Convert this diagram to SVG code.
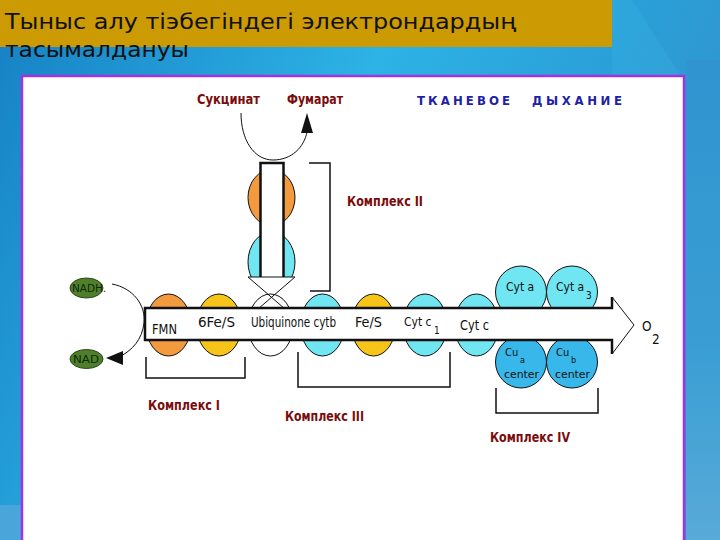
<svg xmlns="http://www.w3.org/2000/svg" width="720" height="540" viewBox="0 0 720 540">
<defs>
<linearGradient id="bg" x1="0" y1="0" x2="1" y2="0.35">
<stop offset="0" stop-color="#1680c4"/>
<stop offset="0.5" stop-color="#2db3e5"/>
<stop offset="0.8" stop-color="#2a9fd8"/>
<stop offset="1" stop-color="#3394cc"/>
</linearGradient>
<linearGradient id="rs" x1="0" y1="0" x2="0" y2="1">
<stop offset="0" stop-color="#2f94cf"/>
<stop offset="0.6" stop-color="#3a9ed4"/>
<stop offset="1" stop-color="#58aad8"/>
</linearGradient>
<clipPath id="stemclip"><rect x="240" y="150" width="70" height="127"/></clipPath>
<style>
.ttl{font-family:"DejaVu Sans","Noto Sans",sans-serif;font-size:21px;fill:#111}
.ru{font-family:"DejaVu Sans Condensed","Liberation Sans Narrow","Liberation Sans",sans-serif;font-weight:bold;font-size:14px;fill:#7a0c0c}
.bl{font-family:"DejaVu Sans Condensed","Liberation Sans",sans-serif;font-weight:bold;font-size:13px;fill:#1e22a6}
.lb{font-family:"DejaVu Sans Condensed","Liberation Sans Narrow","Liberation Sans",sans-serif;font-size:13.5px;fill:#111}
.cc{font-family:"DejaVu Sans Condensed","Liberation Sans Narrow","Liberation Sans",sans-serif;font-size:12px;fill:#111}
.cu2{font-family:"DejaVu Sans Condensed","Liberation Sans Narrow","Liberation Sans",sans-serif;font-size:11px;fill:#111}
.sb{font-family:"DejaVu Sans Condensed","Liberation Sans",sans-serif;font-size:10px;fill:#111}
.ss{font-family:"DejaVu Sans Condensed","Liberation Sans",sans-serif;font-size:9px;fill:#111}
.nd{font-family:"DejaVu Sans Condensed","Liberation Sans",sans-serif;font-size:10px;fill:#10280a}
.c{stroke:#111;stroke-width:1}
.or{fill:#f49a3e}
.ye{fill:#f7c51a}
.cy{fill:#6fe6f2}
.cu{fill:#38b8ea}
.wh{fill:#fff}
.gr{fill:#4f7f2a;stroke:#2a4a15;stroke-width:1}
.ln{fill:none;stroke:#111;stroke-width:1.5}
.th{fill:none;stroke:#111;stroke-width:2.5}
.tn{fill:none;stroke:#111;stroke-width:1}
</style>
</defs>

<!-- background -->
<rect x="0" y="0" width="720" height="540" fill="url(#bg)"/>
<rect x="686" y="60" width="34" height="480" fill="url(#rs)"/>
<polygon points="612,0 632,0 680,75 612,75" fill="#3ab8e6" opacity="0.25"/>
<rect x="0" y="505" width="22" height="35" fill="#4aa6da"/>

<!-- title -->
<rect x="0" y="0" width="612" height="47" fill="#cc9a02"/>
<text class="ttl" x="5" y="29" textLength="511" lengthAdjust="spacingAndGlyphs">Тыныс алу тіэбегіндегі электрондардың</text>
<text class="ttl" x="5" y="57" textLength="184" lengthAdjust="spacingAndGlyphs">тасымалдануы</text>

<!-- panel -->
<rect x="22" y="76" width="662" height="470" fill="#fff" stroke="#a232e2" stroke-width="2.5"/>

<!-- headings -->
<g id="heading">
<text class="bl" x="417" y="105" textLength="93" lengthAdjust="spacing">ТКАНЕВОЕ</text>
<text class="bl" x="532" y="105" textLength="90" lengthAdjust="spacing">ДЫХАНИЕ</text>
</g>
<g id="succinate"><text class="ru" x="197" y="104" textLength="63" lengthAdjust="spacingAndGlyphs">Сукцинат</text></g>
<g id="fumarate"><text class="ru" x="287" y="104" textLength="56" lengthAdjust="spacingAndGlyphs">Фумарат</text></g>

<!-- Complex II vertical part -->
<g id="complex2">
<g clip-path="url(#stemclip)">
<ellipse class="or c" cx="271.5" cy="197.5" rx="23.5" ry="28"/>
<ellipse class="cy c" cx="271.5" cy="262" rx="23.5" ry="30"/>
</g>
<rect x="260.5" y="163" width="23" height="114" fill="#fff"/>
<path class="th" d="M260.5,277 V163 H283.5 V277"/>
<text class="ru" x="347" y="206" textLength="76" lengthAdjust="spacingAndGlyphs">Комплекс II</text>
</g>

<!-- chain carriers -->
<g id="fmn"><ellipse class="or c" cx="168.5" cy="325" rx="22.5" ry="31"/></g>
<g id="fes6"><ellipse class="ye c" cx="219" cy="325" rx="22.5" ry="31"/></g>
<g id="ubiquinone"><ellipse class="wh c" cx="270.5" cy="325" rx="22.5" ry="31"/></g>
<g id="cytb"><ellipse class="cy c" cx="322.5" cy="325" rx="22" ry="31"/></g>
<g id="fes"><ellipse class="ye c" cx="373.5" cy="325" rx="22" ry="31"/></g>
<g id="cytc1"><ellipse class="cy c" cx="425" cy="325" rx="22" ry="31"/></g>
<g id="cytc"><ellipse class="cy c" cx="476.5" cy="325" rx="22" ry="31"/></g>
<g id="cyta"><ellipse class="cy c" cx="521" cy="292" rx="25.5" ry="26"/></g>
<g id="cyta3"><ellipse class="cy c" cx="572" cy="292" rx="25.5" ry="26"/></g>
<g id="cua"><ellipse class="cu c" cx="521" cy="362" rx="25.5" ry="26"/></g>
<g id="cub"><ellipse class="cu c" cx="572" cy="362" rx="25.5" ry="26"/></g>

<!-- main arrow band -->
<g id="band">
<polygon points="145,308 612,308 612,297 634,325 612,354 612,340 145,340" fill="#fff"/>
<path class="th" d="M612,297 V308 H145 V340 H612 V354"/>
<path class="tn" d="M612,297 L634,325 L612,354"/>
</g>

<!-- band labels -->
<text class="lb" x="152" y="334" textLength="25" lengthAdjust="spacingAndGlyphs">FMN</text>
<text class="lb" x="198" y="327" textLength="37" lengthAdjust="spacingAndGlyphs">6Fe/S</text>
<text class="lb" x="251" y="327" textLength="85" lengthAdjust="spacingAndGlyphs">Ubiquinone cytb</text>
<text class="lb" x="355" y="327" textLength="27" lengthAdjust="spacingAndGlyphs">Fe/S</text>
<text class="cc" x="404" y="326">Cyt c</text>
<text class="sb" x="434" y="334">1</text>
<text class="lb" x="460" y="330" textLength="29" lengthAdjust="spacingAndGlyphs">Cyt c</text>
<text class="cc" x="506" y="291">Cyt a</text>
<text class="cc" x="556" y="291">Cyt a</text>
<text class="sb" x="586" y="299">3</text>
<text class="cu2" x="505" y="356">Cu</text>
<text class="ss" x="520" y="363">a</text>
<text class="cu2" x="504" y="378" textLength="35" lengthAdjust="spacingAndGlyphs">center</text>
<text class="cu2" x="556" y="356">Cu</text>
<text class="ss" x="571" y="363">b</text>
<text class="cu2" x="555" y="378" textLength="35" lengthAdjust="spacingAndGlyphs">center</text>
<g id="o2">
<text class="lb" x="642" y="331" font-size="14">O</text>
<text class="lb" x="652" y="344" font-size="14">2</text>
</g>

<!-- NADH / NAD -->
<g id="nadh">
<ellipse class="gr" cx="86.5" cy="288" rx="16.5" ry="10"/>
<text class="nd" x="72" y="292" textLength="34" lengthAdjust="spacingAndGlyphs">NADH.</text>
</g>
<g id="nad">
<ellipse class="gr" cx="86.5" cy="359" rx="16.5" ry="9.5"/>
<text class="nd" x="73" y="363" textLength="26" lengthAdjust="spacingAndGlyphs">NAD</text>
</g>

<!-- connectors -->
<g id="connectors">
<path class="tn" d="M241,113 C241,140 254,160 273,160 C292,160 304,147 307,132"/>
<polygon points="307,113 301,133 313,133" fill="#111"/>
<path class="tn" d="M248,277 H295 M248,277 L285,309 M295,277 L258,309"/>
<path class="tn" d="M112,284 C133,288 146,305 144,323 C142,340 132,350 121,356"/>
<polygon points="106,358 123,351 123,365" fill="#111"/>
<path class="ln" d="M309,163 H330 V291 H310"/>
<path class="ln" d="M146,357 V378 H245 V357"/>
<path class="ln" d="M298,352 V387 H450 V352"/>
<path class="ln" d="M496,388 V413 H598 V388"/>
</g>

<g id="labels">
<text class="ru" x="148" y="410" textLength="72" lengthAdjust="spacingAndGlyphs">Комплекс I</text>
<text class="ru" x="285" y="421" textLength="79" lengthAdjust="spacingAndGlyphs">Комплекс III</text>
<text class="ru" x="490" y="442" textLength="80" lengthAdjust="spacingAndGlyphs">Комплекс IV</text>
</g>
</svg>
